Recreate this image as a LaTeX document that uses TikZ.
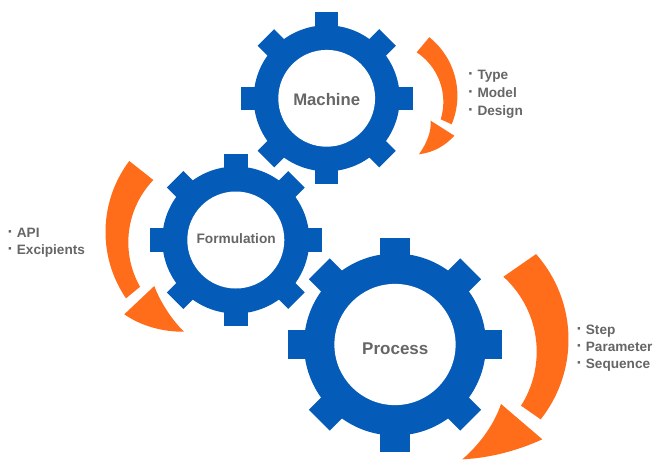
\documentclass[tikz,border=0pt]{standalone}
\usepackage{fontspec}
\setmainfont{Liberation Sans}
\definecolor{gearblue}{HTML}{055CB8}
\definecolor{arroworange}{HTML}{FF6C1A}
\definecolor{labelgrey}{HTML}{666666}
\tikzset{
  gearface/.style={fill=gearblue},
  gearhole/.style={circle,fill=white,inner sep=0pt},
  gearlabel/.style={anchor=base,inner sep=0pt,text=labelgrey},
  arrowface/.style={fill=arroworange},
  listitem/.style={anchor=base west,inner sep=0pt,text=labelgrey,font=\fontsize{13.6}{16}\selectfont\bfseries}
}
% centre x, y, outer r, body r, hole r, tooth half width, node name
\newcommand{\cogwheel}[7]{%
  \fill[gearface] (#1,#2) circle[radius=#4];
  \foreach \t in {0,45,...,315}
    \fill[gearface,shift={(#1,#2)},rotate=\t] (-#6,0) rectangle (#6,-#3);
  \node[gearhole,minimum size=2*#5 pt] (#7) at (#1,#2) {};
}
\newcommand{\arcband}[2]{%
  \fill[arrowface] plot[domain=#1,samples=50] ({\cxa+\ra*cos(\x)},{\cya+\ra*sin(\x)})
    -- plot[domain=#2,samples=50] ({\cxb+\rb*cos(\x)},{\cyb+\rb*sin(\x)}) -- cycle;
}
\newcommand{\li}[1]{\makebox[9.4pt][l]{\fontsize{17}{17}\selectfont ·}#1}
\begin{document}
\begin{tikzpicture}[x=1pt,y=-1pt]
\fill[white] (0,0) rectangle (660,466);
\useasboundingbox (0,0) rectangle (660,466);

\cogwheel{326.7}{98.3}{86}{73}{48.4}{11.7}{machinehole}
\cogwheel{235.8}{240}{85.8}{73.5}{48.5}{11.7}{formulationhole}
\cogwheel{395}{344.5}{107}{91}{60.6}{14.7}{processhole}

\node[gearlabel,font=\fontsize{16.7}{18}\selectfont\bfseries] (machine) at (326.7,105) {Machine};
\node[gearlabel,font=\fontsize{13.7}{16}\selectfont\bfseries] (formulation) at (236.2,243.7) {Formulation};
\node[gearlabel,font=\fontsize{17}{18}\selectfont\bfseries] (process) at (395.3,354) {Process};

% Machine arrow
\def\cxa{382.7}\def\cya{95.6}\def\ra{74.7}\def\cxb{384}\def\cyb{101.85}\def\rb{59.3}
\arcband{-51.4:22.6}{17.1:-56.6}
\fill[arrowface] (430.7,120.7) -- (454.3,135.7)
  .. controls (444.7,146.3) and (433,152.5) .. (419,154.3)
  .. controls (427.5,142) and (431.4,130.8) .. cycle;

% Formulation arrow
\def\cxa{223.3}\def\cya{231.95}\def\ra{117.8}\def\cxb{218.3}\def\cyb{242.3}\def\rb{90}
\arcband{217.04:145.7}{150.4:223.8}
\fill[arrowface] (154.3,286)
  .. controls (159,299) and (170,318) .. (184,331.7)
  .. controls (163,332) and (141,326) .. (124.3,314.3) -- cycle;

% Process arrow
\def\cxa{439.9}\def\cya{339.45}\def\ra{128.6}\def\cxb{435.9}\def\cyb{351.66}\def\rb{100.8}
\arcband{-41.6:38.4}{32.4:-48}
\fill[arrowface] (501,404) -- (542.3,439.3)
  .. controls (519,450) and (491,458) .. (462.3,459.3)
  .. controls (479,445) and (494,425) .. cycle;

% Lists
\node[listitem] (type) at (467.9,79) {\li{Type}};
\node[listitem] (model) at (467.9,97) {\li{Model}};
\node[listitem] (design) at (467.9,115) {\li{Design}};
\node[listitem] (api) at (7.3,237.7) {\li{API}};
\node[listitem] (excipients) at (7.3,254.3) {\li{Excipients}};
\node[listitem] (step) at (576.3,334) {\li{Step}};
\node[listitem] (parameter) at (576.3,351) {\li{Parameter}};
\node[listitem] (sequence) at (576.3,368.7) {\li{Sequence}};
\end{tikzpicture}
\end{document}
